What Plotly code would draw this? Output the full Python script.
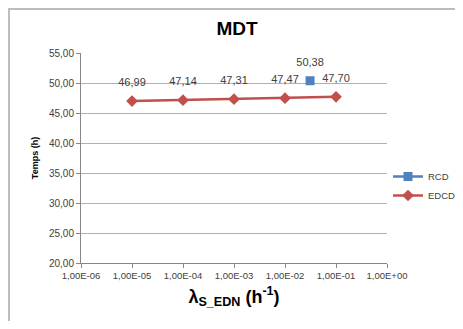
import plotly.graph_objects as go

x_edcd = [1e-5, 1e-4, 1e-3, 1e-2, 1e-1]
y_edcd = [46.99, 47.14, 47.31, 47.47, 47.70]
x_rcd = [0.031]
y_rcd = [50.38]
x_tickvals = [1e-6, 1e-5, 1e-4, 1e-3, 1e-2, 1e-1, 1e0]
x_ticktext = ["1,00E-06", "1,00E-05", "1,00E-04", "1,00E-03", "1,00E-02", "1,00E-01", "1,00E+00"]
y_tickvals = [20, 25, 30, 35, 40, 45, 50, 55]

def fmt(v):
    return f"{v:.2f}".replace(".", ",")

# page body has an 8px margin: work in page pixels, shift by O
O = 8
W, H = 463 - 2 * O, 329 - 2 * O
L, R, T, B = 81 - O, 387 - O, 53 - O, 263 - O

LBL = dict(size=11, color="#404040")

fig = go.Figure()
fig.add_trace(go.Scatter(
    x=x_rcd, y=y_rcd, name="RCD", mode="lines+markers",
    line=dict(color="#4F81BD", width=2.5),
    marker=dict(symbol="square", size=9, color="#4F81BD"),
))
fig.add_trace(go.Scatter(
    x=x_edcd, y=y_edcd, name="EDCD", mode="lines+markers",
    line=dict(color="#C0504D", width=2.5),
    marker=dict(symbol="diamond", size=9, color="#C0504D"),
))
# data labels (transparent larger markers give Excel-like label offset)
for xs, ys in ((x_rcd, y_rcd), (x_edcd, y_edcd)):
    fig.add_trace(go.Scatter(
        x=xs, y=ys, mode="markers+text", showlegend=False, hoverinfo="skip",
        marker=dict(size=18, color="rgba(0,0,0,0)"),
        text=[fmt(v) for v in ys], textposition="top center",
        textfont=LBL, cliponaxis=False,
    ))

# outer chart border: only top and left edges are visible in the reference
def pxx(v):
    return (v - L) / (R - L)
def pyy(v):
    return (B - v) / (B - T)
border = dict(color="#BDBDBD", width=2)
fig.add_shape(type="line", xref="paper", yref="paper",
              x0=pxx(0), x1=pxx(W), y0=pyy(1), y1=pyy(1), line=border)
fig.add_shape(type="line", xref="paper", yref="paper",
              x0=pxx(1), x1=pxx(1), y0=pyy(0), y1=pyy(H), line=border)

fig.update_layout(
    width=W, height=H,
    margin=dict(l=L, r=W - R, t=T, b=H - B, autoexpand=False),
    paper_bgcolor="white", plot_bgcolor="white",
    font=dict(family="Liberation Sans", size=10, color="#404040"),
    title=dict(text="<b>MDT</b>", x=(237 - O) / W, xanchor="center",
               y=1 - (28 - O) / H, yanchor="middle",
               font=dict(size=19, color="black")),
    showlegend=True,
    legend=dict(xref="container", yref="container",
                x=(388 - O) / W, y=1 - (162 - O) / H, xanchor="left", yanchor="top",
                font=dict(size=9.5, color="#404040"),
                bgcolor="rgba(0,0,0,0)", itemwidth=30, tracegroupgap=0),
    xaxis=dict(type="log", range=[-6, 0], tickvals=x_tickvals, ticktext=x_ticktext,
               automargin=False,
               showgrid=False, showline=True, linecolor="#868686", linewidth=1,
               ticks="outside", ticklen=4, tickcolor="#868686",
               tickfont=dict(size=9.5, color="#404040"),
               title=dict(text="<b>λ<sub>S_EDN</sub> (h<sup>-1</sup>)</b>",
                          font=dict(size=18, color="black"), standoff=9)),
    yaxis=dict(range=[20, 55], tickvals=y_tickvals,
               ticktext=[fmt(v) for v in y_tickvals],
               automargin=False,
               showgrid=True, gridcolor="#B0B0B0", gridwidth=1,
               showline=True, linecolor="#868686", linewidth=1,
               ticks="outside", ticklen=4, tickcolor="#868686",
               tickfont=dict(size=10, color="#404040"), zeroline=False,
               title=dict(text="<b>Temps (h)</b>", font=dict(size=9, color="black"),
                          standoff=8)),
)

fig.write_html("out.html")
